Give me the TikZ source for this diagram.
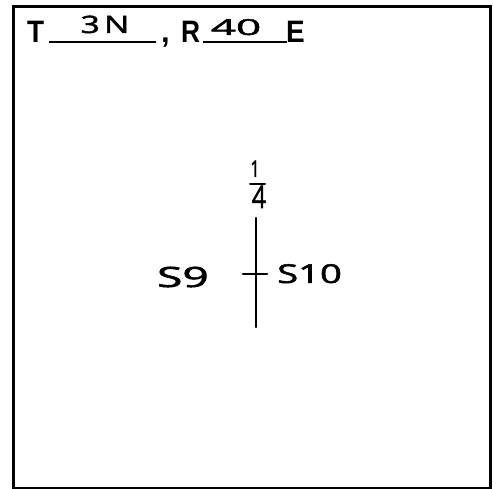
\documentclass[tikz,border=0pt]{standalone}
\usepackage{graphicx}
\usepackage{fontspec}
\setmainfont{Liberation Sans}
\newfontfamily\hand[FakeBold=1.8]{Open Sans}
\begin{document}
\begin{tikzpicture}[x=1pt,y=-1pt,
  printed/.style={font=\bfseries\fontsize{31}{31}\selectfont, inner sep=0pt, anchor=base west},
  handtxt/.style={font=\hand\fontsize{24}{24}\selectfont, inner sep=0pt, anchor=base},
  bigtxt/.style={font=\hand\fontsize{28}{28}\selectfont, inner sep=0pt},
  rule/.style={line width=2.6pt},
  ink/.style={line width=2.6pt, line cap=round}]
\useasboundingbox (0,0) rectangle (493,489);
\draw[line width=3pt] (13.5,6.5) rectangle (490.5,488);
% header
\node[printed] (T) at (27,43) {\scalebox{0.9}[1]{T}};
\coordinate (u1a) at (49,42);
\coordinate (u1b) at (156,42);
\draw[rule] (u1a) -- (u1b);
\node[handtxt] (tn) at (105,33) {\scalebox{1.4}[1]{3\kern3pt N}};
\node[printed] (comma) at (161,43) {,};
\node[printed] (R) at (181,43) {\scalebox{0.85}[1]{R}};
\coordinate (u2a) at (203,42);
\coordinate (u2b) at (287,42);
\draw[rule] (u2a) -- (u2b);
\node[handtxt, font=\hand\fontsize{22}{22}\selectfont] (rn) at (236,35) {\scalebox{2}[1]{40}};
\node[printed] (E) at (286,43) {\scalebox{0.9}[1]{E}};
% section line
\coordinate (vt) at (256,218);
\coordinate (vb) at (256,327);
\coordinate (hl) at (243,274);
\coordinate (hr) at (267,274);
\draw[ink] (vt) -- (vb);
\draw[ink] (hl) -- (hr);
\node[handtxt, font=\hand\fontsize{23}{23}\selectfont] (one) at (255,177) {\scalebox{0.7}[1]{1}};
\coordinate (qa) at (250,184);
\coordinate (qb) at (265,184);
\draw[ink, line width=2pt] (qa) -- (qb);
\node[handtxt, font=\hand\fontsize{31}{31}\selectfont] (four) at (259,208) {\scalebox{0.8}[1]{4}};
\node[bigtxt, anchor=base east] (s9) at (209,287) {\scalebox{1.65}[1]{S9}};
\node[bigtxt, font=\hand\fontsize{26}{26}\selectfont, anchor=base west] (s10) at (277,283) {\scalebox{1.47}[1]{S10}};
\end{tikzpicture}
\end{document}
